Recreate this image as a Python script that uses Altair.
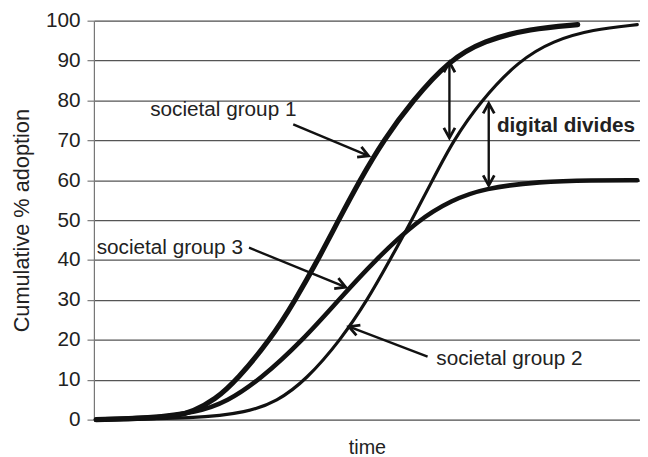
import math
import altair as alt
import pandas as pd

# ---- data (time on a 0-100 scale, cumulative % adoption) ----
g1_t = [0.4, 10.0, 15.4, 18.0, 22.2, 26.2, 32.3, 36.9, 41.0, 44.8, 48.7, 53.0, 58.4, 65.0, 71.4, 79.9, 88.6]
g1_v = [0.0, 0.3, 1.0, 2.0, 5.0, 10.0, 20.0, 30.0, 40.0, 50.0, 60.0, 70.0, 80.0, 90.0, 95.0, 98.0, 99.0]

g2_t = [0.4, 19.0, 28.0, 33.5, 38.9, 45.2, 50.1, 54.2, 58.2, 62.0, 65.8, 70.9, 77.8, 84.1, 91.3, 99.5]
g2_v = [0.0, 0.3, 1.8, 4.5, 10.0, 20.0, 30.0, 40.0, 50.0, 60.0, 70.0, 80.0, 90.0, 95.0, 97.8, 99.0]

g3_t = [0.4, 10.0, 19.0, 24.4, 30.4, 38.3, 44.8, 51.5, 59.3, 65.5, 71.4, 81.7, 91.3, 99.5]
g3_v = [0.0, 0.4, 1.8, 4.5, 10.0, 20.0, 30.0, 40.0, 50.0, 55.0, 58.0, 59.7, 60.0, 60.0]

# annotation labels
label_text = ["societal group 1", "societal group 3", "societal group 2"]
label_t = [10.3, 0.5, 62.7]
label_v = [77.7, 43.1, 15.3]

divide_text = ["digital divides"]
divide_t = [73.8]
divide_v = [73.5]

# single arrows: tail -> tip
arr_t0 = [36.5, 28.4, 61.1]
arr_v0 = [74.0, 43.1, 15.8]
arr_t1 = [50.3, 46.1, 46.7]
arr_v1 = [66.1, 33.2, 23.3]

# double arrows (vertical)
dbl_t = [65.1, 72.3]
dbl_top = [89.6, 79.3]
dbl_bot = [70.6, 58.7]

W, H = 553, 404
FONT = "Liberation Sans"

rows = []
for name, ts, vs, w in [("g1", g1_t, g1_v, 5.2), ("g2", g2_t, g2_v, 3.2), ("g3", g3_t, g3_v, 4.6)]:
    for t, v in zip(ts, vs):
        rows.append({"group": name, "t": t, "v": v, "w": w})
curves = pd.DataFrame(rows)

xscale = alt.Scale(domain=[0, 100], nice=False, zero=False)
yscale = alt.Scale(domain=[0, 100], nice=False)
xaxis = alt.Axis(title="time", labels=False, ticks=False, domain=False, grid=False,
                 titleFont=FONT, titleFontSize=20, titleFontWeight="normal",
                 titleColor="#222", titlePadding=18)
yaxis = alt.Axis(title="Cumulative % adoption", values=list(range(0, 101, 10)),
                 grid=True, gridColor="#555", gridWidth=1.2,
                 domain=True, domainColor="#777", domainWidth=1.2,
                 ticks=True, tickSize=7, tickColor="#777", tickWidth=1.2,
                 labelFont=FONT, labelFontSize=21, labelColor="#222", labelPadding=7,
                 titleFont=FONT, titleFontSize=22, titleFontWeight="normal",
                 titleColor="#222", titlePadding=12)


def X(f):
    return alt.X(f, scale=xscale, axis=xaxis)


def Y(f):
    return alt.Y(f, scale=yscale, axis=yaxis)


lines = alt.Chart(curves).mark_line(interpolate="basis", color="#111", strokeCap="round").encode(
    x=X("t:Q"), y=Y("v:Q"),
    strokeWidth=alt.StrokeWidth("w:Q", scale=None, legend=None),
    detail="group:N",
)

shafts = []
heads = []


def ang(t0, v0, t1, v1):
    dx = (t1 - t0) * W / 100.0
    dy = -(v1 - v0) * H / 100.0
    return math.degrees(math.atan2(dx, -dy)) % 360


for a, b, c, d in zip(arr_t0, arr_v0, arr_t1, arr_v1):
    shafts.append({"x": a, "y": b, "x2": c, "y2": d})
    heads.append({"x": c, "y": d, "angle": ang(a, b, c, d)})
for t, top, bot in zip(dbl_t, dbl_top, dbl_bot):
    shafts.append({"x": t, "y": top, "x2": t, "y2": bot})
    heads.append({"x": t, "y": top, "angle": 0.0})
    heads.append({"x": t, "y": bot, "angle": 180.0})

shaft_df = pd.DataFrame(shafts)
head_df = pd.DataFrame(heads)

rules = alt.Chart(shaft_df).mark_rule(color="#111", strokeWidth=2.4).encode(
    x=X("x:Q"), y=Y("y:Q"), x2="x2:Q", y2="y2:Q"
)

heads_layer = alt.Chart(head_df).mark_point(
    shape="M -0.55 1 L 0 0 L 0.55 1", filled=False, color="#111",
    strokeWidth=2.8, size=420, opacity=1
).encode(
    x=X("x:Q"), y=Y("y:Q"), angle=alt.Angle("angle:Q", scale=None)
)

lab_df = pd.DataFrame({"t": label_t, "v": label_v, "txt": label_text})
labels = alt.Chart(lab_df).mark_text(
    align="left", baseline="middle", font=FONT, fontSize=21, color="#222"
).encode(x=X("t:Q"), y=Y("v:Q"), text="txt:N")

div_df = pd.DataFrame({"t": divide_t, "v": divide_v, "txt": divide_text})
divides = alt.Chart(div_df).mark_text(
    align="left", baseline="middle", font=FONT, fontSize=21, fontWeight="bold", color="#222"
).encode(x=X("t:Q"), y=Y("v:Q"), text="txt:N")

chart = alt.layer(lines, rules, heads_layer, labels, divides).properties(
    width=W, height=H,
    autosize=alt.AutoSizeParams(type="none"),
    padding={"left": 87, "top": 10, "right": 0, "bottom": 35},
).configure_view(stroke=None).configure(background="white")

chart.save("out.html", embed_options={"renderer": "svg", "actions": False})
